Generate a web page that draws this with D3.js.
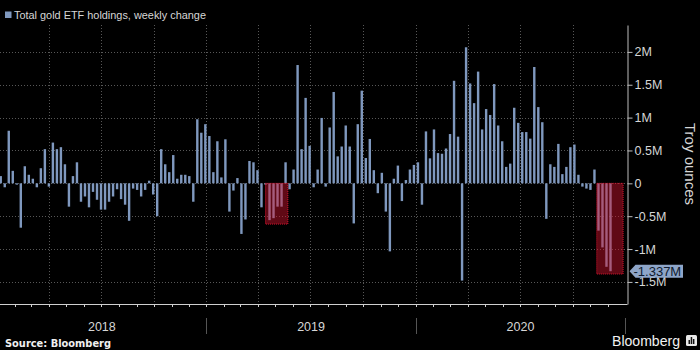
<!DOCTYPE html>
<html>
<head>
<meta charset="utf-8">
<script src="https://cdn.jsdelivr.net/npm/d3@7"></script>
<style>
  html, body { margin: 0; padding: 0; background: #000; }
  svg { display: block; font-family: "Liberation Sans", Arial, sans-serif; }
</style>
</head>
<body>
<div id="chart"></div>
<script>
// total gold ETF holdings, weekly change (million troy ounces), one value per week
var first_week = "2018-01-07";
var weekly_change = [
  0.11, -0.06, 0.80, 0.19, -0.02, -0.675, 0.26, 0.13, 0.07, -0.06, 0.23, 0.52, -0.05,
  0.62, 0.52, 0.55, 0.29, -0.355, 0.11, 0.32, -0.28, -0.20, -0.365, -0.13, -0.25, -0.40,
  -0.40, -0.28, -0.20, -0.09, -0.24, -0.325, -0.57, -0.08, -0.10, -0.20, -0.10, 0.04, -0.17,
  -0.50, 0.52, 0.29, 0.17, 0.43, 0.07, 0.13, 0.13, 0.11, -0.28, 0.975, 0.77, 0.90,
  0.72, 0.17, 0.64, 0.09, 0.67, -0.43, -0.11, 0.08, -0.77, -0.55, 0.34, 0.32, 0.20,
  -0.365, -0.02, -0.56, -0.53, -0.355, -0.355, 0.32, -0.09, 0.21, 1.80, 0.52, 1.30, 0.57,
  -0.06, 0.21, 0.995, -0.05, 0.85, 1.39, 0.41, 0.56, 0.88, 0.56, -0.61, 0.90, 1.41,
  0.385, 0.675, 0.20, -0.15, 0.16, -0.43, -1.035, 0.07, 0.27, -0.27, 0.05, 0.21, 0.28,
  0.32, -0.325, 0.79, 0.38, 0.82, 0.46, 0.45, 0.53, 0.75, 1.56, 0.71, -1.48, 2.07,
  1.52, 1.22, 1.70, 0.82, 1.13, 1.04, 1.51, 0.88, 0.64, 0.25, 0.30, 1.15, 0.92,
  0.78, 0.78, 0.68, 1.77, 1.16, 0.93, -0.54, 0.29, 0.25, 0.60, 0.14, 0.25, 0.55,
  0.59, 0.13, -0.05, -0.08, -0.10, 0.21, -0.72, -0.975, -1.27, -1.337
];
var y_ticks = [-1.5, -1, -0.5, 0, 0.5, 1, 1.5, 2];
var y_tick_labels = ["-1.5M", "-1M", "-0.5M", "0", "0.5M", "1M", "1.5M", "2M"];
var years = ["2018", "2019", "2020"];
// outflow periods boxed in red
var highlight_from = ["2019-04-14", "2020-11-12"];
var highlight_to = ["2019-05-23", "2020-12-28"];
var highlight_low = [-0.62, -1.38];
var last_label = "-1.337M";

function weekly_bars(config) {
  var defaults = {
    width: 700,
    height: 350,
    plot: { left: 0, right: 627.5, top: 25, bottom: 304 },
    x_range: [-2.7, 625.4],
    y_domain: [-1.836, 2.409],
    bar_width: 2.4,
    bar_color: "#7f98be",
    tag_color: "#8ea5c8",
    grid_color: "#575757",
    text_color: "#d6d6d6",
    highlight_color: "#d4142e",
  };
  config = Object.assign({}, defaults, config);
  var plot = config.plot;
  var parseDate = d3.utcParse("%Y-%m-%d");

  var start = parseDate(first_week);
  var data = weekly_change.map(function (v, i) {
    return { date: d3.utcWeek.offset(start, i), value: v };
  });

  var year_starts = years.map(function (yr) {
    return parseDate(yr + "-01-01");
  });
  var x_end = d3.utcYear.offset(year_starts[year_starts.length - 1], 1);

  var x = d3.scaleUtc().domain([year_starts[0], x_end]).range(config.x_range);
  var y = d3
    .scaleLinear()
    .domain(config.y_domain)
    .range([plot.bottom, plot.top]);

  d3.select(config.placeholder + " svg").remove();

  var svg = d3
    .select(config.placeholder)
    .append("svg")
    .attr("width", config.width)
    .attr("height", config.height)
    .style("background", "#000");

  svg
    .append("clipPath")
    .attr("id", "plot-clip")
    .append("rect")
    .attr("x", plot.left)
    .attr("y", plot.top)
    .attr("width", plot.right - plot.left)
    .attr("height", plot.bottom - plot.top);

  // dotted grid
  var grid = svg.append("g").attr("stroke", config.grid_color).attr("stroke-dasharray", "1,2");
  grid
    .selectAll("line.h")
    .data(y_ticks)
    .enter()
    .append("line")
    .attr("x1", plot.left)
    .attr("x2", plot.right)
    .attr("y1", function (d) { return Math.round(y(d)) + 0.5; })
    .attr("y2", function (d) { return Math.round(y(d)) + 0.5; });

  var quarters = d3.utcMonth.every(3).range(year_starts[0], x_end).filter(function (d) {
    return x(d) > plot.left + 2 && x(d) < plot.right - 4;
  });
  grid
    .selectAll("line.v")
    .data(quarters)
    .enter()
    .append("line")
    .attr("x1", function (d) { return Math.round(x(d)) + 0.5; })
    .attr("x2", function (d) { return Math.round(x(d)) + 0.5; })
    .attr("y1", plot.top)
    .attr("y2", plot.bottom);

  // bars
  svg
    .append("g")
    .attr("clip-path", "url(#plot-clip)")
    .selectAll("rect")
    .data(data)
    .enter()
    .append("rect")
    .attr("x", function (d) { return x(d.date) - config.bar_width / 2; })
    .attr("y", function (d) { return y(Math.max(0, d.value)); })
    .attr("width", config.bar_width)
    .attr("height", function (d) { return Math.abs(y(d.value) - y(0)); })
    .attr("fill", config.bar_color);

  // red highlight boxes
  svg
    .append("g")
    .selectAll("rect")
    .data(highlight_from)
    .enter()
    .append("rect")
    .attr("x", function (d) { return x(parseDate(d)); })
    .attr("y", y(0))
    .attr("width", function (d, i) {
      return x(parseDate(highlight_to[i])) - x(parseDate(d));
    })
    .attr("height", function (d, i) { return y(highlight_low[i]) - y(0); })
    .attr("fill", config.highlight_color)
    .attr("fill-opacity", 0.45)
    .attr("stroke", config.highlight_color)
    .attr("stroke-dasharray", "1,1");

  // bottom axis
  var bottom = svg.append("g").attr("stroke", "#cfcfcf");
  bottom
    .append("line")
    .attr("x1", plot.left)
    .attr("x2", plot.right)
    .attr("y1", plot.bottom + 0.5)
    .attr("y2", plot.bottom + 0.5);
  bottom
    .selectAll("line.tick")
    .data(d3.utcMonth.range(year_starts[0], x_end).filter(function (d) {
      return x(d) > plot.left && x(d) < plot.right;
    }))
    .enter()
    .append("line")
    .attr("x1", function (d) { return Math.round(x(d)) + 0.5; })
    .attr("x2", function (d) { return Math.round(x(d)) + 0.5; })
    .attr("y1", plot.bottom)
    .attr("y2", plot.bottom + 3);

  var year_bounds = year_starts.slice(1).concat([x_end]);
  svg
    .append("g")
    .selectAll("line")
    .data(year_bounds)
    .enter()
    .append("line")
    .attr("x1", function (d) { return Math.round(x(d)) + 0.5; })
    .attr("x2", function (d) { return Math.round(x(d)) + 0.5; })
    .attr("y1", 318)
    .attr("y2", 334)
    .attr("stroke", "#555");

  svg
    .append("g")
    .selectAll("text")
    .data(years)
    .enter()
    .append("text")
    .attr("x", function (d, i) {
      return (x(year_starts[i]) + x(year_bounds[i])) / 2;
    })
    .attr("y", 331)
    .attr("text-anchor", "middle")
    .attr("font-size", 12.5)
    .attr("fill", config.text_color)
    .text(function (d) { return d; });

  // right axis
  var minor = d3.range(-1.75, 2.3, 0.25).filter(function (d) {
    return y_ticks.indexOf(d) < 0;
  });
  var right = svg.append("g").attr("transform", "translate(" + plot.right + ",0)");
  right.call(
    d3.axisRight(y).tickValues(minor).tickSize(3).tickSizeOuter(0).tickFormat("")
  );
  right.call(
    d3
      .axisRight(y)
      .tickValues(y_ticks)
      .tickSize(5)
      .tickSizeOuter(0)
      .tickPadding(2)
      .tickFormat(function (d, i) { return y_tick_labels[i]; })
  );
  right.selectAll("path.domain").attr("stroke", "#bdbdbd");
  right.selectAll(".tick line").attr("stroke", "#bdbdbd");
  right
    .selectAll(".tick text")
    .attr("fill", config.text_color)
    .attr("font-size", 12.5)
    .attr("font-family", "Liberation Sans, Arial, sans-serif");

  svg
    .append("text")
    .attr("transform", "translate(684.5,164) rotate(90)")
    .attr("text-anchor", "middle")
    .attr("font-size", 15)
    .attr("fill", config.text_color)
    .text("Troy ounces");

  // last value tag
  var last = data[data.length - 1];
  var ty = y(last.value);
  svg
    .append("path")
    .attr(
      "d",
      "M" + (plot.right + 2) + "," + ty +
        "L" + (plot.right + 8) + "," + (ty - 6.5) +
        "H683V" + (ty + 6.5) +
        "H" + (plot.right + 8) + "Z"
    )
    .attr("fill", config.tag_color);
  svg
    .append("text")
    .attr("x", plot.right + 6)
    .attr("y", ty + 4.5)
    .attr("font-size", 13)
    .attr("fill", "#0e1a2e")
    .text(last_label);

  // legend
  svg
    .append("rect")
    .attr("x", 5)
    .attr("y", 11.5)
    .attr("width", 6.5)
    .attr("height", 6.5)
    .attr("fill", config.bar_color);
  svg
    .append("text")
    .attr("x", 14)
    .attr("y", 18.5)
    .attr("font-size", 11)
    .attr("textLength", 192)
    .attr("lengthAdjust", "spacingAndGlyphs")
    .attr("fill", config.text_color)
    .text("Total gold ETF holdings, weekly change");

  // footer
  svg
    .append("text")
    .attr("x", 5)
    .attr("y", 346.5)
    .attr("font-size", 11)
    .attr("font-weight", "bold")
    .attr("font-family", "DejaVu Sans, sans-serif")
    .attr("textLength", 106)
    .attr("lengthAdjust", "spacingAndGlyphs")
    .attr("fill", "#f0f0f0")
    .text("Source: Bloomberg");
  svg
    .append("text")
    .attr("x", 612)
    .attr("y", 346)
    .attr("font-size", 14)
    .attr("textLength", 68)
    .attr("lengthAdjust", "spacingAndGlyphs")
    .attr("fill", "#f2f2f2")
    .text("Bloomberg");
  var logo = svg.append("g").attr("transform", "translate(686,335)");
  logo.append("rect").attr("width", 11).attr("height", 11).attr("rx", 1.5).attr("fill", "#e8e8e8");
  logo
    .selectAll("rect.b")
    .data([4, 7, 5])
    .enter()
    .append("rect")
    .attr("x", function (d, i) { return 2.5 + i * 2.2; })
    .attr("y", function (d) { return 9 - d; })
    .attr("width", 1.5)
    .attr("height", function (d) { return d; })
    .attr("fill", "#111");
}

weekly_bars({ placeholder: "#chart" });
</script>
</body>
</html>
